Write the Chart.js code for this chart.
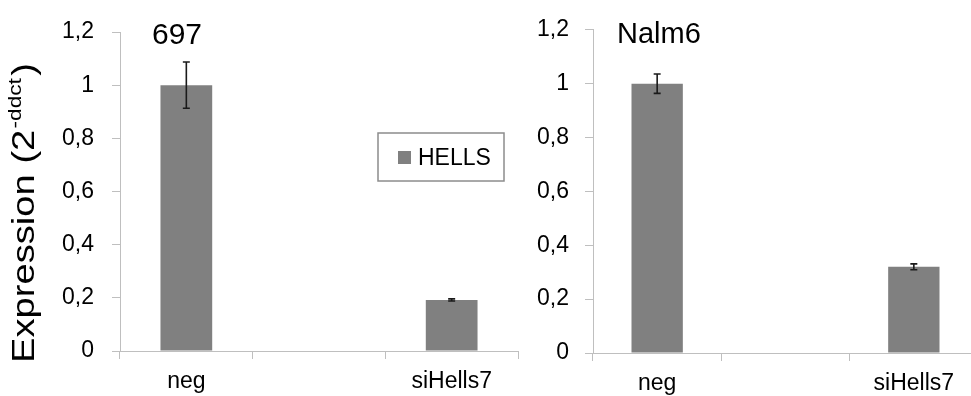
<!DOCTYPE html>
<html>
<head>
<meta charset="utf-8">
<script src="https://cdn.jsdelivr.net/npm/chart.js@4.4.1/dist/chart.umd.min.js"></script>
<style>
  html, body { margin: 0; padding: 0; background: #fff; overflow: hidden; }
  #wrap { position: relative; width: 971px; height: 396px; overflow: hidden; }
  canvas { position: absolute; top: 0; }
  #c1 { left: 0; }
  #c2 { left: 530px; }
</style>
</head>
<body>
<div id="wrap">
  <canvas id="c1" width="530" height="396"></canvas>
  <canvas id="c2" width="460" height="396"></canvas>
</div>
<script>
// Relative HELLS expression after knock-down, two cell lines
const categories = ['neg', 'siHells7'];
const seriesName = 'HELLS';
const values697 = [1.0, 0.192];
const errors697 = [0.087, 0.004];
const valuesNalm6 = [1.0, 0.32];
const errorsNalm6 = [0.036, 0.011];
const yTickValues = [0, 0.2, 0.4, 0.6, 0.8, 1.0, 1.2];

const FONT = '"Liberation Sans", Arial, sans-serif';
const AXIS_GREY = '#bfbfbf';
const BAR_GREY = '#808080';

// Empty spacer slot between the two groups on the category axis
const axisLabels = [categories[0], '', categories[1]];
const spaced = arr => [arr[0], null, arr[1]];

const fmtTick = v => String(Number(v.toFixed(1))).replace('.', ',');

// Whiskers drawn from each dataset's `errors` array
const errorBars = {
  id: 'errorBars',
  afterDatasetsDraw(chart) {
    const ctx = chart.ctx;
    const y = chart.scales.y;
    chart.data.datasets.forEach((ds, di) => {
      const meta = chart.getDatasetMeta(di);
      meta.data.forEach((bar, i) => {
        const v = ds.data[i], e = ds.errors[i];
        if (v == null || e == null) return;
        const top = y.getPixelForValue(v + e);
        const bot = y.getPixelForValue(v - e);
        const cap = 3.5;
        ctx.save();
        ctx.strokeStyle = '#1a1a1a';
        ctx.lineWidth = 1.6;
        ctx.beginPath();
        ctx.moveTo(bar.x, top); ctx.lineTo(bar.x, bot);
        ctx.moveTo(bar.x - cap, top); ctx.lineTo(bar.x + cap, top);
        ctx.moveTo(bar.x - cap, bot); ctx.lineTo(bar.x + cap, bot);
        ctx.stroke();
        ctx.restore();
      });
    });
  }
};

// Panel title, plus optional legend box and rotated y-axis title
const decorations = {
  id: 'decorations',
  afterDraw(chart, args, opts) {
    const ctx = chart.ctx;
    const area = chart.chartArea;
    ctx.save();
    ctx.fillStyle = '#000';
    ctx.textBaseline = 'alphabetic';
    ctx.textAlign = 'left';
    ctx.font = opts.titleSize + 'px ' + FONT;
    ctx.fillText(opts.title, area.left + opts.titleDx, opts.titleBaseline);

    if (opts.legend) {
      const L = opts.legend;
      ctx.strokeStyle = '#8c8c8c';
      ctx.lineWidth = 1.5;
      ctx.strokeRect(L.x, L.y, L.w, L.h);
      const ds = chart.data.datasets[0];
      ctx.fillStyle = ds.backgroundColor;
      ctx.fillRect(L.x + 20, L.y + 18, 13, 13);
      ctx.fillStyle = '#000';
      ctx.font = '23px ' + FONT;
      ctx.fillText(ds.label, L.x + 40, L.y + 32);
    }

    if (opts.yTitle) {
      const T = opts.yTitle;
      const big = T.size + 'px ' + FONT;
      const small = Math.round(T.size * 0.6) + 'px ' + FONT;
      const main = 'Expression (2', sup = '-ddct', close = ')';
      ctx.font = big;
      const wMain = ctx.measureText(main).width;
      const wClose = ctx.measureText(close).width;
      ctx.font = small;
      const wSup = ctx.measureText(sup).width;
      const natural = wMain + wSup + 3 + wClose;
      const stretch = T.length / natural;

      ctx.translate(T.x, T.y);
      ctx.rotate(-Math.PI / 2);
      ctx.scale(stretch, 1);
      ctx.font = big;
      ctx.fillText(main, 0, 0);
      ctx.font = small;
      ctx.fillText(sup, wMain + 1, -T.size * 0.4);
      ctx.font = big;
      ctx.fillText(close, wMain + wSup + 3, 0);
    }
    ctx.restore();
  }
};

function makeChart(id, values, errors, cfg) {
  return new Chart(document.getElementById(id), {
    type: 'bar',
    data: {
      labels: axisLabels,
      datasets: [{
        label: seriesName,
        data: spaced(values),
        errors: spaced(errors),
        backgroundColor: BAR_GREY,
        borderWidth: 0,
        categoryPercentage: 1.0,
        barPercentage: cfg.barPct
      }]
    },
    options: {
      responsive: false,
      animation: false,
      devicePixelRatio: 1,
      layout: { padding: { top: cfg.top, right: 12, left: 0, bottom: 0 } },
      plugins: {
        legend: { display: false },
        tooltip: { enabled: false },
        decorations: cfg.deco
      },
      scales: {
        x: {
          type: 'category',
          offset: true,
          grid: { offset: true, drawOnChartArea: false, drawTicks: true, tickLength: 8, color: AXIS_GREY },
          border: { color: AXIS_GREY, width: 1 },
          ticks: { padding: 9, color: '#000', font: { size: 23, family: FONT }, maxRotation: 0, autoSkip: false },
          afterFit: s => { s.height = cfg.xHeight; }
        },
        y: {
          min: 0,
          max: 1.2,
          afterBuildTicks: s => { s.ticks = yTickValues.map(v => ({ value: v })); },
          grid: { drawOnChartArea: false, drawTicks: true, tickLength: 8, color: AXIS_GREY },
          border: { color: AXIS_GREY, width: 1 },
          ticks: { padding: cfg.yPad, color: '#000', font: { size: 23, family: FONT }, callback: v => fmtTick(v) },
          afterFit: s => { s.width = cfg.yWidth; }
        }
      }
    },
    plugins: [errorBars, decorations]
  });
}

makeChart('c1', values697, errors697, {
  top: 32, xHeight: 45, yWidth: 120, yPad: 18, barPct: 0.39,
  deco: {
    title: '697', titleSize: 30, titleDx: 32, titleBaseline: 44,
    legend: { x: 378, y: 133, w: 126, h: 48 },
    yTitle: { x: 34, y: 363, size: 32, length: 300 }
  }
});

makeChart('c2', valuesNalm6, errorsNalm6, {
  top: 23, xHeight: 43, yWidth: 63, yPad: 16, barPct: 0.4,
  deco: { title: 'Nalm6', titleSize: 29, titleDx: 24, titleBaseline: 43 }
});
</script>
</body>
</html>
